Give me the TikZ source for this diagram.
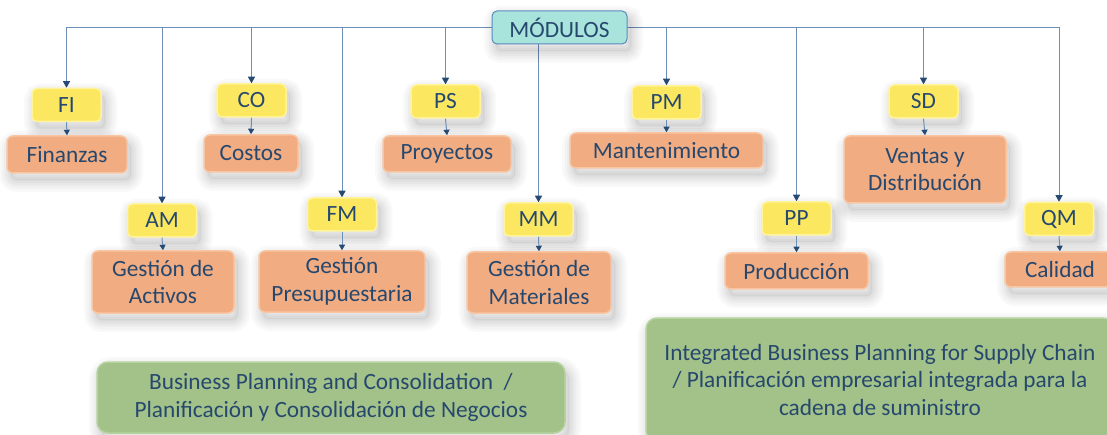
\documentclass[tikz,border=0pt]{standalone}
\usepackage{fontspec}
\setmainfont{Carlito}
\usetikzlibrary{arrows.meta}
\pgfdeclarelayer{bg}
\pgfsetlayers{bg,main}
\definecolor{txtc}{HTML}{27486E}
\definecolor{linec}{HTML}{6D8EB6}
\definecolor{tipc}{HTML}{254A74}
\definecolor{yelf}{HTML}{FBE860}
\definecolor{yeld}{HTML}{FFF49A}
\definecolor{ornf}{HTML}{F1AC82}
\definecolor{ornd}{HTML}{F8C6A2}
\definecolor{grnf}{HTML}{A2C289}
\definecolor{grnd}{HTML}{B6D3A0}
\definecolor{tealf}{HTML}{A8E4DB}
\definecolor{teald}{HTML}{5B8AC0}
\tikzset{
  x=1pt, y=-1pt,
  every node/.style={inner sep=0pt, text=txtc, align=center,
    font=\fontsize{23.3}{27.5}\selectfont},
  shl/.style={preaction={draw=black, opacity=0.022, line width=#1,
    transform canvas={shift={(4pt,-7pt)}}}},
  shad/.style={
    preaction={fill=black, opacity=0.03, transform canvas={shift={(4pt,-7pt)}}},
    shl=24pt, shl=19pt, shl=14pt, shl=10pt, shl=6pt, shl=2pt},
  codebox/.style={shad, fill=yelf, draw=yeld, line width=1.5pt,
    rounded corners=5pt, minimum width=69pt, minimum height=33pt},
  namebox/.style={shad, fill=ornf, draw=ornd, line width=1.5pt,
    rounded corners=6pt},
  planbox/.style={shad, fill=grnf, draw=grnd, line width=1.5pt,
    rounded corners=11pt, minimum width=468pt},
  topbox/.style={shad, fill=tealf, draw=teald, line width=1pt,
    rounded corners=5pt, minimum width=135pt, minimum height=33pt},
  bus/.style={draw=linec, line width=1pt},
  arr/.style={draw=linec, line width=1pt,
    -{Triangle[width=7pt,length=6.5pt,color=tipc]}},
  sarr/.style={draw=linec, line width=1pt,
    -{Triangle[width=6pt,length=5.5pt,color=tipc]}}
}
\begin{document}
\begin{tikzpicture}
\useasboundingbox (0,0) rectangle (1107,435);
\clip (0,0) rectangle (1107,435);

\node[topbox] (M) at (559.5,27.5) {MÓDULOS};

\node[codebox] (FI) at (66.5,105) {FI};
\node[codebox] (CO) at (251.5,100.5) {CO};
\node[codebox] (PS) at (445.5,101.5) {PS};
\node[codebox] (PM) at (666.5,102.5) {PM};
\node[codebox] (SD) at (923.5,101.5) {SD};
\node[codebox] (AM) at (162,220.5) {AM};
\node[codebox] (FM) at (342,214.5) {FM};
\node[codebox] (MM) at (538.5,219.5) {MM};
\node[codebox] (PP) at (796.5,218.5) {PP};
\node[codebox] (QM) at (1059,219) {QM};

\node[namebox, minimum width=120pt, minimum height=37pt] (fin) at (67,154.5) {Finanzas};
\node[namebox, minimum width=94pt, minimum height=37pt] (cos) at (251,153.5) {Costos};
\node[namebox, minimum width=128pt, minimum height=36pt] (pro) at (447,154) {Proyectos};
\node[namebox, minimum width=193pt, minimum height=35pt] (man) at (666.5,150.5) {Mantenimiento};
\node[namebox, minimum width=162pt, minimum height=67pt] (ven) at (925,169.5) {Ventas y\\Distribución};
\node[namebox, minimum width=142pt, minimum height=62pt] (act) at (163,282) {Gestión de\\Activos};
\node[namebox, minimum width=166pt, minimum height=61pt] (pre) at (342,281.5) {Gestión\\Presupuestaria};
\node[namebox, minimum width=144pt, minimum height=61pt] (mat) at (539,282.5) {Gestión de\\Materiales};
\node[namebox, minimum width=143pt, minimum height=36pt] (prd) at (796.5,271) {Producción};
\node[namebox, minimum width=110pt, minimum height=35pt] (cal) at (1060,269.5) {Calidad};

\node[planbox, minimum height=71pt] (bpc) at (331,397.5)
  {Business Planning and Consolidation \ /\\Planificación y Consolidación de Negocios};
\node[planbox, minimum height=123pt] (ibp) at (880,379.5)
  {Integrated Business Planning for Supply Chain\\/ Planificación empresarial integrada para la\\cadena de suministro};

\begin{pgfonlayer}{bg}
\fill[white] (0,0) rectangle (1107,435);
\draw[bus] (FI.north |- M.center) -- (QM.north |- M.center);
\foreach \n in {FI,CO,PS,PM,SD,AM,FM,MM,PP,QM}
  \draw[arr] (\n.north |- M.center) -- (\n.north);
\end{pgfonlayer}

\draw[sarr] (FI.south) -- (fin.north);
\draw[sarr] (CO.south) -- (cos.north);
\draw[sarr] (PS.south) -- (pro.north);
\draw[sarr] (PM.south) -- (man.north);
\draw[sarr] (SD.south) -- (ven.north);
\draw[sarr] (AM.south) -- (act.north);
\draw[sarr] (FM.south) -- (pre.north);
\draw[sarr] (MM.south) -- (mat.north);
\draw[sarr] (PP.south) -- (prd.north);
\draw[sarr] (QM.south) -- (cal.north);
\end{tikzpicture}
\end{document}
